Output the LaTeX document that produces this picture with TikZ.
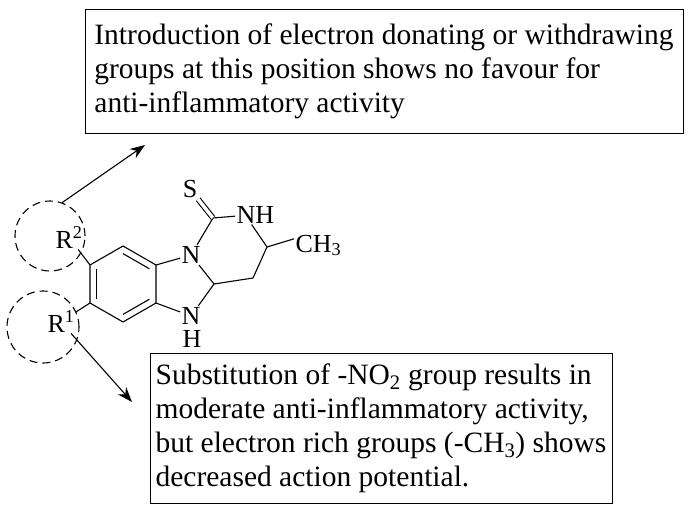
\documentclass[tikz,border=0pt]{standalone}
\usepackage{fontspec}
\setmainfont{Liberation Serif}
\usepackage{tikz}
\usetikzlibrary{positioning}
\usetikzlibrary{calc}
\usetikzlibrary{arrows.meta}

\begin{document}
\begin{tikzpicture}
		[x=1pt, y=-1pt, line width=1.1pt, font=\fontsize{26}{30}\selectfont,
		atom/.style = {inner sep=1pt},
		note/.style = {draw, line width=1pt, align=left, font=\fontsize{29.5}{34}\selectfont},
		site/.style = {draw, circle, dash pattern=on 8pt off 5pt, inner sep=0pt},
		dbl/.style = {double, double distance=3.5pt},
		pointer/.style = {-{Stealth[length=15pt, width=11pt]}}]
	\useasboundingbox (0,0) rectangle (690,511);
	% benzene ring
	\coordinate (bc) at (123,284);
	\coordinate (b1) at (123,246);
	\coordinate (b2) at (156,265);
	\coordinate (b3) at (156,303);
	\coordinate (b4) at (123,322);
	\coordinate (b5) at (90,303);
	\coordinate (b6) at (90,265);
	% fused rings
	\coordinate (ch) at (214,284);
	\coordinate (cs) at (213,218);
	\coordinate (chm) at (267,247);
	\coordinate (ch2) at (253,278);
	\node[atom] (n1) at (191,255) {N};
	\node[atom] (n3) at (191,316) {N};
	\node[atom] (h3) at (192,339) {H};
	\node[atom] (s) at (190,189) {S};
	\node[atom, anchor=base west] (nh) at (235,223) {NH};
	\node[atom, anchor=base west] (ch3) at (294,252) {CH\textsubscript{3}};
	% substituents
	\node[atom, anchor=base west] (r2) at (54,248) {R\textsuperscript{2}};
	\node[atom, anchor=base west] (r1) at (46,332) {R\textsuperscript{1}};
	\node[site, minimum size=70pt] (r2site) at (50,236) {};
	\node[site, minimum size=72pt] (r1site) at (43,327) {};
	% notes
	\node[note, minimum width=598pt, minimum height=123pt] (topnote) at (384,71.5)
		{Introduction of electron donating or withdrawing\\groups at this position shows no favour for\\anti-inflammatory activity};
	\node[note, minimum width=462pt, minimum height=150pt] (lownote) at (381,428)
		{Substitution of -NO\textsubscript{2} group results in\\moderate anti-inflammatory activity,\\but electron rich groups (-CH\textsubscript{3}) shows\\decreased action potential.};
	\coordinate (toptip) at (145,145);
	\coordinate (lowtip) at (132,402);
	% bonds
	\draw (b1) -- (b2) -- (b3) -- (b4) -- (b5) -- (b6) -- cycle;
	\draw ($(b6)!0.2!(bc)$) -- ($(b5)!0.2!(bc)$);
	\draw ($(b1)!0.2!(bc)$) -- ($(b2)!0.2!(bc)$);
	\draw ($(b3)!0.2!(bc)$) -- ($(b4)!0.2!(bc)$);
	\draw (b2) -- (n1) -- (ch);
	\draw (b3) -- (n3) -- (ch);
	\draw (n1) -- (cs);
	\draw[dbl] (cs) -- (s);
	\draw (cs) -- (nh);
	\draw (nh.-110) -- (chm) -- (ch2) -- (ch);
	\draw (chm) -- (ch3.165);
	\draw (b6) -- (r2);
	\draw (b5) -- (r1);
	% arrows to notes
	\draw[pointer] (r2site.70) -- (toptip);
	\draw[pointer] (r1.-50) -- (lowtip);
\end{tikzpicture}
\end{document}
